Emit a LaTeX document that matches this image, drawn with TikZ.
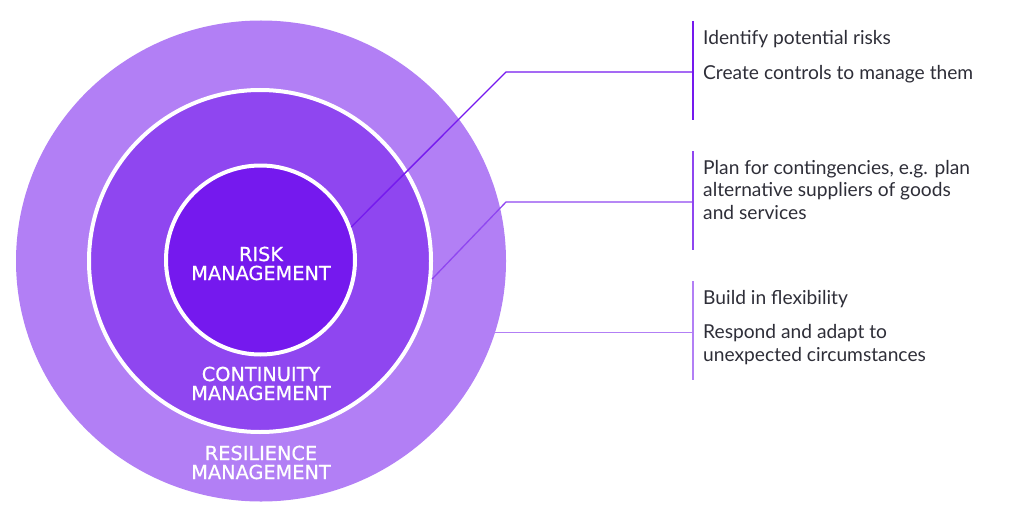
\documentclass[tikz,border=0pt]{standalone}
\usepackage{fontspec}
\setmainfont{Lato}
\newfontfamily\labelfont[FakeBold=0.6]{DejaVu Sans}
\usetikzlibrary{shapes.geometric}
\definecolor{outerc}{HTML}{B27FF5}
\definecolor{midc}{HTML}{8F46F0}
\definecolor{innerc}{HTML}{7519EE}
\definecolor{txt}{HTML}{2E2E38}
\tikzset{
  ring/.style={circle, draw=white, line width=4pt, inner sep=0pt},
  lbl/.style={text=white, font=\labelfont\fontsize{19.3}{19}\selectfont, align=center, inner sep=0pt},
  item/.style={text=txt, font=\fontsize{19.2}{22.3}\selectfont, align=left, anchor=base west, inner sep=0pt},
  bar/.style={line width=2pt},
  conn/.style={line width=1.3pt},
}
\begin{document}
\begin{tikzpicture}[x=1pt,y=-1pt]
\path[use as bounding box] (0,0) rectangle (1016,532);
% circles
\node[ellipse, fill=outerc, minimum width=490pt, minimum height=481pt, inner sep=0pt] (outer) at (261,261) {};
\node[ring, fill=midc, minimum size=342pt] (cont) at (260,261) {};
\node[ring, fill=innerc, minimum size=189pt] (risk) at (260.5,260) {};
% labels
\node[lbl, anchor=north] (lrisk) at (261,246.5) {RISK\\MANAGEMENT};
\node[lbl, anchor=north] (lcont) at (261,366.5) {CONTINUITY\\MANAGEMENT};
\node[lbl, anchor=north] (lres) at (261,445.5) {RESILIENCE\\MANAGEMENT};
% bars
\coordinate (b1t) at (693,21);  \coordinate (b1b) at (693,120);
\coordinate (b2t) at (693,151); \coordinate (b2b) at (693,250);
\coordinate (b3t) at (693,281); \coordinate (b3b) at (693,380);
\draw[bar, innerc] (b1t) -- (b1b);
\draw[bar, midc] (b2t) -- (b2b);
\draw[bar, outerc] (b3t) -- (b3b);
% connectors
\coordinate (e1) at (506,72);
\coordinate (e2) at (506,202);
\draw[conn, innerc] (risk.20) -- (e1) -- (e1 -| b1t);
\draw[conn, midc] (cont.-6) -- (e2) -- (e2 -| b2t);
\draw[conn, outerc] (outer.-17) -- (outer.-17 -| b3t);
% texts (multi-line nodes: base = last line's baseline)
\node[item] (t1a) at (703,44.3) {Identify potential risks};
\node[item] (t1b) at (703,79.3) {Create controls to manage them};
\node[item] (t2) at (703,219) {Plan for contingencies, e.g. plan\\alternative suppliers of goods\\and services};
\node[item] (t3a) at (703,304.3) {Build in flexibility};
\node[item] (t3b) at (703,361) {Respond and adapt to\\unexpected circumstances};
\end{tikzpicture}
\end{document}
